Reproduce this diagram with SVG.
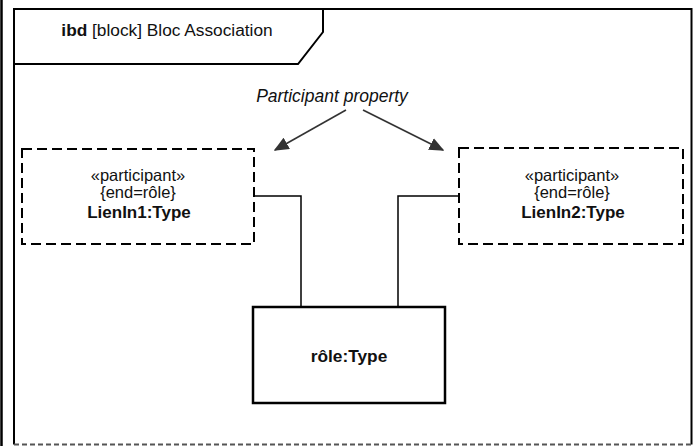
<svg xmlns="http://www.w3.org/2000/svg" width="698" height="446" viewBox="0 0 698 446">
<defs>
<style>
text{font-family:"Liberation Sans",Arial,sans-serif;fill:#111}
.lbl{font-size:16.5px;text-anchor:middle}
.b{font-weight:bold;font-size:17px}
.part{fill:#fff;stroke:#000;stroke-width:2;stroke-dasharray:10,5}
.conn{fill:none;stroke:#000;stroke-width:1.5}
.arr{fill:none;stroke:#333;stroke-width:1.6;marker-end:url(#ah)}
</style>
<marker id="ah" viewBox="0 0 10 10" refX="9" refY="5" markerWidth="15" markerHeight="13" markerUnits="userSpaceOnUse" orient="auto" preserveAspectRatio="none">
<path d="M0,0 L10,5 L0,10 z" fill="#333"/>
</marker>
</defs>
<rect width="698" height="446" fill="#fff"/>
<line x1="1.5" y1="0" x2="1.5" y2="446" stroke="#000" stroke-width="2.5"/>
<g id="frame">
<path d="M14,444.5 L14,9 L691.5,9 L691.5,444.5" fill="none" stroke="#000" stroke-width="2"/>
<line x1="14" y1="444.5" x2="691.5" y2="444.5" stroke="#555" stroke-width="2" stroke-dasharray="5,3"/>
<path d="M14,9 L323,9 L323,32 L298,64 L14,64" fill="none" stroke="#000" stroke-width="2"/>
<text x="167" y="36" class="lbl" style="font-size:17.3px"><tspan font-weight="bold">ibd</tspan> [block] Bloc Association</text>
</g>
<g id="note">
<text x="332" y="102" class="lbl" style="font-size:17.5px;font-style:italic">Participant property</text>
</g>
<g id="lienIn1">
<rect x="22" y="149" width="232" height="95" class="part"/>
<text x="138" y="181" class="lbl">«participant»</text>
<text x="138" y="198" class="lbl">{end=rôle}</text>
<text x="139" y="218" class="lbl b">LienIn1:Type</text>
</g>
<g id="lienIn2">
<rect x="459" y="148" width="224" height="96" class="part"/>
<text x="572" y="181" class="lbl">«participant»</text>
<text x="572" y="198" class="lbl">{end=rôle}</text>
<text x="573" y="218" class="lbl b">LienIn2:Type</text>
</g>
<g id="role">
<rect x="253" y="307" width="192" height="96" fill="#fff" stroke="#000" stroke-width="2.5"/>
<text x="349" y="362" class="lbl b" style="font-size:17.3px">rôle:Type</text>
</g>
<g id="connectors">
<polyline points="254,196 301,196 301,307" class="conn"/>
<polyline points="459,196 398,196 398,307" class="conn"/>
<line x1="346" y1="110" x2="275" y2="150" class="arr"/>
<line x1="363" y1="110" x2="443" y2="150" class="arr"/>
</g>
</svg>
